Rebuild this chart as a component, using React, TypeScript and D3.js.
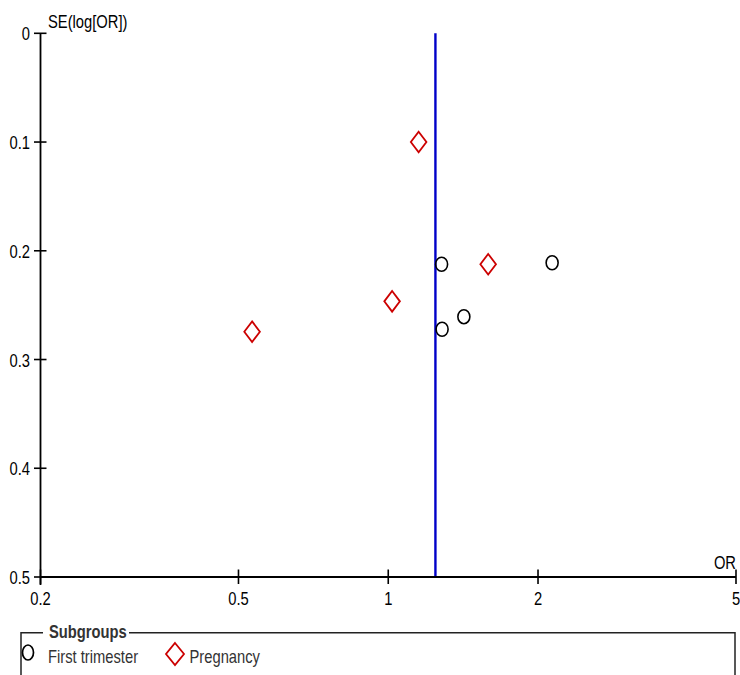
import React from "react";
import * as d3 from "d3";

// Funnel plot: odds ratio (log scale) against standard error of log OR
const orTicks = [0.2, 0.5, 1, 2, 5];
const seTicks = [0, 0.1, 0.2, 0.3, 0.4, 0.5];

const firstTrimesterOR = [1.28, 2.135, 1.419, 1.283];
const firstTrimesterSE = [0.2124, 0.211, 0.2606, 0.2722];

const pregnancyOR = [1.151, 1.588, 1.018, 0.5325];
const pregnancySE = [0.1, 0.2124, 0.2465, 0.2744];

const pooledOR = 1.244;

const subgroupNames = ["First trimester", "Pregnancy"];

const W = 740;
const H = 675;
const FONT = "'Liberation Sans', Arial, Helvetica, sans-serif";
const NARROW = 0.82;

const x = d3.scaleLog().domain([0.2, 5]).range([40.5, 736]);
const y = d3.scaleLinear().domain([0, 0.5]).range([33.3, 577]);

function Label(props: {
  x: number;
  y: number;
  text: string;
  anchor?: "start" | "middle" | "end";
  size?: number;
  bold?: boolean;
  fill?: string;
}) {
  const { x: tx, y: ty, text, anchor = "start", size = 18, bold = false, fill = "#000" } = props;
  return (
    <text
      transform={`translate(${tx},${ty}) scale(${NARROW},1)`}
      textAnchor={anchor}
      fontFamily={FONT}
      fontSize={size}
      fontWeight={bold ? "bold" : "normal"}
      fill={fill}
    >
      {text}
    </text>
  );
}

function diamondPath(cx: number, cy: number, hw: number, hh: number) {
  return `M${cx},${cy - hh}L${cx + hw},${cy}L${cx},${cy + hh}L${cx - hw},${cy}Z`;
}

export default function App() {
  const x0 = x.range()[0];
  const y0 = y.range()[0];
  const yBottom = y.range()[1];
  const xRight = x.range()[1];

  const firstPts = firstTrimesterOR.map((or, i) => ({ or, se: firstTrimesterSE[i] }));
  const pregPts = pregnancyOR.map((or, i) => ({ or, se: pregnancySE[i] }));

  const legendTop = 632.7;

  return (
    <div style={{ position: "absolute", left: 0, top: 0 }}>
      <svg width={W} height={H} style={{ display: "block", background: "#fff" }}>
        {/* pooled estimate */}
        <line
          x1={x(pooledOR)}
          x2={x(pooledOR)}
          y1={y0}
          y2={yBottom}
          stroke="#0000c8"
          strokeWidth={2.4}
        />

        {/* y axis */}
        <line x1={x0} x2={x0} y1={y0} y2={yBottom + 8} stroke="#000" strokeWidth={1.8} />
        {seTicks.map((t) => (
          <g key={`ys${t}`}>
            <line x1={x0 - 6.5} x2={x0 + 6} y1={y(t)} y2={y(t)} stroke="#000" strokeWidth={1.6} />
            <Label x={x0 - 10.5} y={y(t) + 7} text={String(t)} anchor="end" />
          </g>
        ))}
        <Label x={48} y={28} text="SE(log[OR])" />

        {/* x axis */}
        <line x1={x0} x2={xRight} y1={yBottom} y2={yBottom} stroke="#000" strokeWidth={1.8} />
        {orTicks.map((t) => (
          <g key={`xs${t}`}>
            <line x1={x(t)} x2={x(t)} y1={yBottom - 7.5} y2={yBottom + 7} stroke="#000" strokeWidth={1.6} />
            <Label x={x(t)} y={605} text={String(t)} anchor="middle" />
          </g>
        ))}
        <Label x={xRight} y={569} text="OR" anchor="end" />

        {/* studies */}
        {firstPts.map((d, i) => (
          <ellipse
            key={`c${i}`}
            cx={x(d.or)}
            cy={y(d.se)}
            rx={6}
            ry={7}
            fill="none"
            stroke="#000"
            strokeWidth={1.6}
          />
        ))}
        {pregPts.map((d, i) => (
          <path
            key={`d${i}`}
            d={diamondPath(x(d.or), y(d.se), 7.8, 10.3)}
            fill="none"
            stroke="#cc0000"
            strokeWidth={1.8}
          />
        ))}

        {/* legend */}
        <path
          d={`M43,${legendTop}H21V${H + 5}M129,${legendTop}H735V${H + 5}`}
          fill="none"
          stroke="#222"
          strokeWidth={1.5}
        />
        <Label x={49} y={638} text="Subgroups" bold fill="#333" />
        <ellipse cx={28} cy={652.5} rx={5.5} ry={7.5} fill="none" stroke="#000" strokeWidth={1.7} />
        <Label x={48} y={663} text={subgroupNames[0]} fill="#333" />
        <path d={diamondPath(175, 654, 9, 11)} fill="none" stroke="#cc0000" strokeWidth={1.8} />
        <Label x={189.5} y={663} text={subgroupNames[1]} fill="#333" />
      </svg>
    </div>
  );
}
